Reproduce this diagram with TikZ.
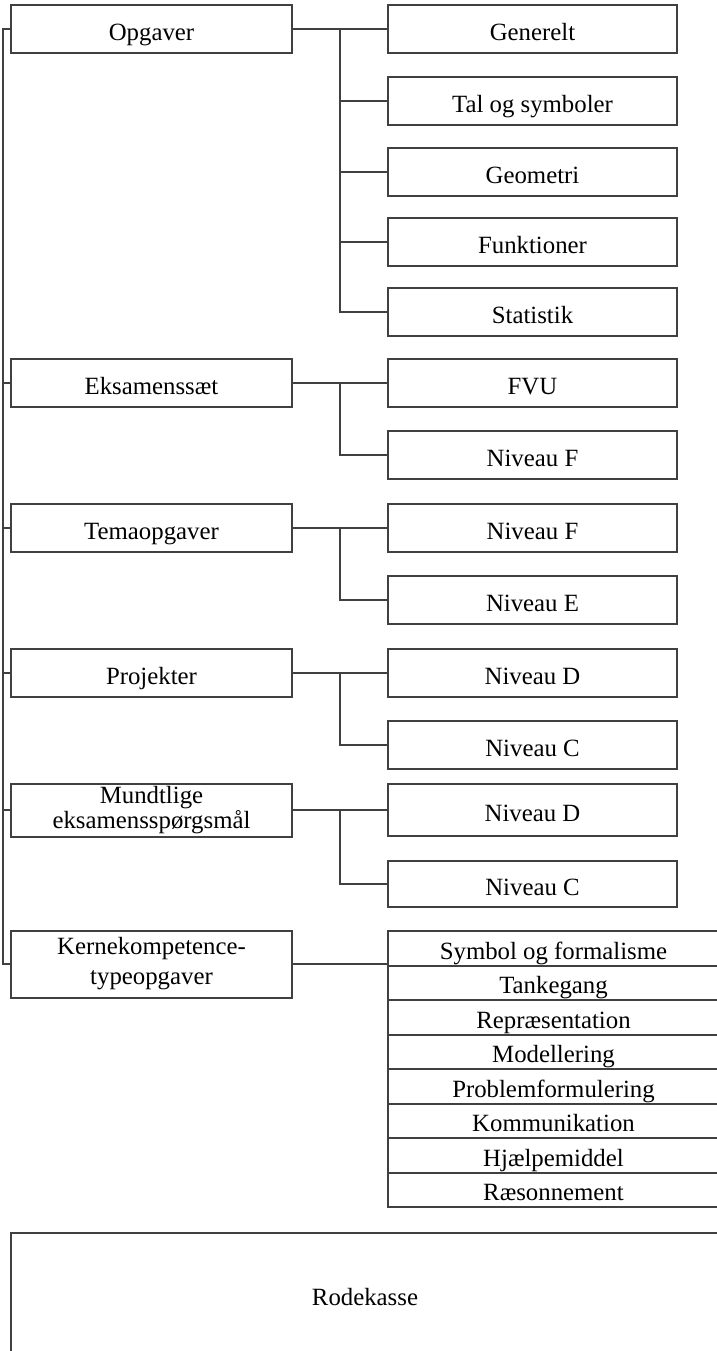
\documentclass[tikz,border=0pt]{standalone}
\usepackage{fontspec}
\setmainfont{Liberation Serif}
\begin{document}
\begin{tikzpicture}[x=0.5pt, y=-0.5pt,
            hoved/.style={rectangle, draw=black!75, line width=1pt, minimum width=140.5pt, minimum height=24pt, inner sep=1pt, text height=12pt, text depth=1pt, font=\fontsize{12.4}{13}\selectfont},
            under/.style={rectangle, draw=black!75, line width=1pt, minimum width=144.5pt, minimum height=24pt, inner sep=1pt, text height=12pt, text depth=1pt, font=\fontsize{12.4}{13}\selectfont},
            liste/.style={rectangle, draw=black!75, line width=1pt, minimum width=165.5pt, minimum height=17.25pt, inner sep=0pt, text height=12pt, text depth=1pt, font=\fontsize{12.4}{13}\selectfont},
            to-linjer/.style={align=center, text height={}, text depth={}},
            linje/.style={draw=black!75, line width=1pt}
        ]
        \useasboundingbox (0,0) rectangle (717,1351);
        \clip (0,0) rectangle (717,1351);

        % Hjælpepunkter til de lodrette linjer
        \coordinate (spine) at (3,0);
        \coordinate (gren) at (340,0);

        % Niveau 1: Hovedkategorier
        \node[hoved] (opgaver) at (151.5,29) {Opgaver};
        \node[hoved] (eksamen) at (151.5,383) {Eksamenssæt};
        \node[hoved] (tema) at (151.5,528) {Temaopgaver};
        \node[hoved] (projekter) at (151.5,673) {Projekter};
        \node[hoved, to-linjer, minimum height=26.5pt, font=\fontsize{12.4}{11.5}\selectfont] (mundtlige) at (151.5,810) {Mundtlige\\eksamensspørgsmål};
        \node[hoved, to-linjer, minimum height=33.5pt, font=\fontsize{12.4}{15}\selectfont] (kerne) at (151.5,964) {Kernekompetence-\\typeopgaver};

        % Niveau 2: Underkategorier
        \node[under] (generelt) at (532.5,29) {Generelt};
        \node[under] (tal) at (532.5,101) {Tal og symboler};
        \node[under] (geometri) at (532.5,172) {Geometri};
        \node[under] (funktioner) at (532.5,242) {Funktioner};
        \node[under] (statistik) at (532.5,312) {Statistik};
        \node[under] (fvu) at (532.5,383) {FVU};
        \node[under] (eks-f) at (532.5,455) {Niveau F};
        \node[under] (tema-f) at (532.5,528) {Niveau F};
        \node[under] (tema-e) at (532.5,600) {Niveau E};
        \node[under] (proj-d) at (532.5,673) {Niveau D};
        \node[under] (proj-c) at (532.5,745) {Niveau C};
        \node[under, minimum height=26pt] (mund-d) at (532.5,810) {Niveau D};
        \node[under, minimum height=23pt] (mund-c) at (532.5,884) {Niveau C};

        % Kernekompetencer
        \foreach \navn [count=\i] in {Symbol og formalisme, Tankegang, Repræsentation, Modellering, Problemformulering, Kommunikation, Hjælpemiddel, Ræsonnement}
            \node[liste] (komp-\i) at (553.5,948.25+34.5*\i-34.5) {\navn};

        % Rodekasse
        \node[rectangle, draw=black!75, line width=1pt, minimum width=354pt, minimum height=64pt, font=\fontsize{12.4}{13}\selectfont] (rode) at (365,1297) {Rodekasse};

        % Forbindelser
        \draw[linje] (opgaver.west) -- (opgaver.west -| spine) |- (kerne.west);
        \draw[linje] (eksamen.west) -- (eksamen.west -| spine);
        \draw[linje] (tema.west) -- (tema.west -| spine);
        \draw[linje] (projekter.west) -- (projekter.west -| spine);
        \draw[linje] (mundtlige.west) -- (mundtlige.west -| spine);

        \draw[linje] (opgaver.east) -- (generelt.west);
        \draw[linje] (generelt.west -| gren) |- (statistik.west);
        \draw[linje] (tal.west) -- (tal.west -| gren);
        \draw[linje] (geometri.west) -- (geometri.west -| gren);
        \draw[linje] (funktioner.west) -- (funktioner.west -| gren);

        \draw[linje] (eksamen.east) -- (fvu.west);
        \draw[linje] (fvu.west -| gren) |- (eks-f.west);
        \draw[linje] (tema.east) -- (tema-f.west);
        \draw[linje] (tema-f.west -| gren) |- (tema-e.west);
        \draw[linje] (projekter.east) -- (proj-d.west);
        \draw[linje] (proj-d.west -| gren) |- (proj-c.west);
        \draw[linje] (mundtlige.east) -- (mund-d.west |- mundtlige.east);
        \draw[linje] (mundtlige.east -| gren) |- (mund-c.west);

        \draw[linje] (kerne.east) -- (kerne.east -| komp-1.west);

    \end{tikzpicture}
\end{document}
